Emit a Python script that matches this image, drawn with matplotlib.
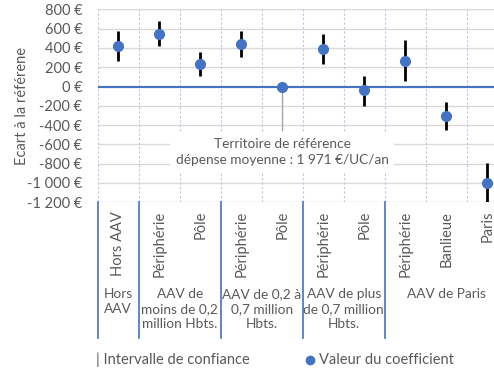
import matplotlib
matplotlib.use("Agg")
import matplotlib.pyplot as plt
import matplotlib.transforms as mtransforms

plt.rcParams['font.family'] = ['Lato', 'DejaVu Sans']

# Categories (sub-zones) and their groups
categories = ["Hors AAV", "Périphérie", "Pôle", "Périphérie", "Pôle",
              "Périphérie", "Pôle", "Périphérie", "Banlieue", "Paris"]
groups = ["Hors\nAAV", "AAV de\nmoins de 0,2\nmillion Hbts.", "AAV de 0,2 à\n0,7 million\nHbts.",
          "AAV de plus\nde 0,7 million\nHbts.", "AAV de Paris"]
group_sizes = [1, 2, 2, 2, 3]

# Coefficients (€ difference vs reference) and confidence interval bounds
coef = [420, 545, 235, 440, 0, 385, -40, 265, -305, -1003]
ci_low = [268, 420, 112, 302, None, 230, -202, 57, -451, -1230]
ci_high = [575, 676, 354, 578, None, 544, 112, 482, -158, -789]

yticks = [800, 600, 400, 200, 0, -200, -400, -600, -800, -1000, -1200]
ytick_labels = ["800 €", "600 €", "400 €", "200 €", "0 €", "-200 €", "-400 €",
                "-600 €", "-800 €", "-1 000 €", "-1 200 €"]

ref_note = "Territoire de référence\ndépense moyenne : 1 971 €/UC/an"
ref_index = 4

GREY_TXT = "#595959"
BLUE = "#4472C4"
GRID = "#D9D9D9"
FS = 10.5

W, H = 494, 372
fig = plt.figure(figsize=(W / 100, H / 100), dpi=100)
left, right, top, bottom = 97.7, 507.7, 9.3, 202.3
ax = fig.add_axes([left / W, 1 - bottom / H, (right - left) / W, (bottom - top) / H])

n = len(categories)
ax.set_xlim(-0.5, n - 0.5)
ax.set_ylim(-1200, 800)

for s in ax.spines.values():
    s.set_visible(False)

# horizontal grid
for yv in yticks:
    ax.axhline(yv, color=GRID, lw=1.0, zorder=0)
# vertical dashed grid at category boundaries
for k in range(n + 1):
    ax.axvline(k - 0.5, color="#B4C7E7", lw=0.8, ls=(0, (2, 2)), zorder=0)

ax.axhline(0, color=BLUE, lw=1.5, zorder=1)

ax.set_yticks(yticks)
ax.set_yticklabels(ytick_labels, color=GREY_TXT, fontsize=FS)
ax.tick_params(axis='y', length=0, pad=11)
ax.set_xticks([])
ax.set_ylabel("Ecart à la référene", color=GREY_TXT, fontsize=FS, va="center")
ax.yaxis.set_label_coords((22 - left) / (right - left), 0.5)

# confidence intervals
for i in range(n):
    if ci_low[i] is not None:
        ax.plot([i, i], [ci_low[i], ci_high[i]], color="black", lw=2.0, zorder=3,
                solid_capstyle="butt")

# reference territory note
ax.plot([ref_index, ref_index], [0, -450], color="#A6A6A6", lw=1.0, zorder=2)
ax.text(ref_index, -680, ref_note, ha="center", va="center", fontsize=9.8,
        color=GREY_TXT, linespacing=1.4, zorder=4,
        bbox=dict(boxstyle="square,pad=0.4", fc="white", ec="none"))

# coefficients
xs = list(range(n))
ax.plot(xs, coef, ls="none", marker="o", ms=7, color=BLUE, mec=BLUE, zorder=5)
ax.plot([ref_index], [coef[ref_index]], ls="none", marker="o", ms=6, color=BLUE, zorder=6)

# category axis below the plot
trans = mtransforms.blended_transform_factory(ax.transData, ax.transAxes)
ph = bottom - top
def ay(px):
    return (bottom - px) / ph

for i, c in enumerate(categories):
    ax.text(i, ay(211), c, rotation=90, ha="center", va="top", fontsize=FS,
            color=GREY_TXT, transform=trans, clip_on=False)

pos = 0
seps = [-0.5]
for g, s in zip(groups, group_sizes):
    center = pos + (s - 1) / 2
    ax.text(center, ay(288), g, ha="center", va="top", fontsize=9.8, color=GREY_TXT,
            linespacing=1.3, transform=trans, clip_on=False)
    pos += s
    seps.append(pos - 0.5)
for sx in seps[:-1]:
    ax.plot([sx, sx], [ay(202.3), ay(338)], color=BLUE, lw=1.2, transform=trans,
            clip_on=False)

# legend
fig.text(96 / W, 1 - 360 / H, "| Intervalle de confiance", ha="left", va="center",
         fontsize=FS, color=GREY_TXT)
fig.lines.append(plt.Line2D([310 / W], [1 - 360 / H], marker="o", ms=6, color=BLUE,
                            ls="none", transform=fig.transFigure))
fig.text(319 / W, 1 - 360 / H, "Valeur du coefficient", ha="left", va="center",
         fontsize=FS, color=GREY_TXT)

fig.savefig("out.png", dpi=100)
